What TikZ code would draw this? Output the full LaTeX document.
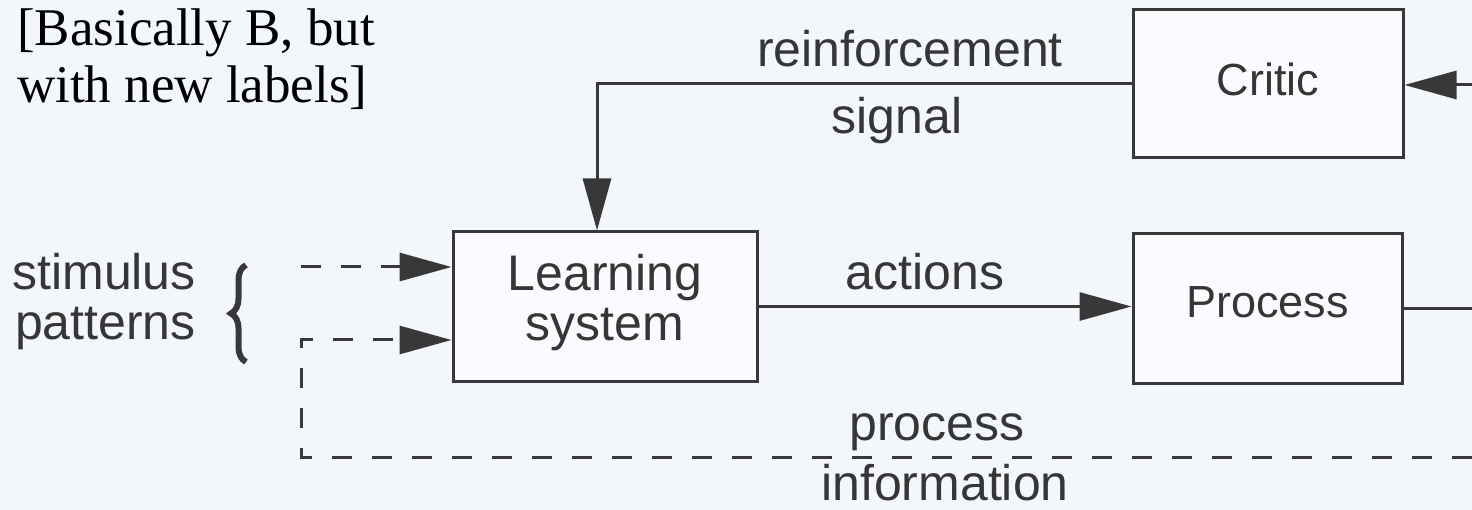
\documentclass[tikz,border=0pt]{standalone}
\usepackage{fontspec}
\setmainfont{Liberation Serif}
\newfontfamily\labfont{Liberation Sans}
\usetikzlibrary{arrows.meta,decorations.pathreplacing}
\definecolor{bgc}{HTML}{F3F7FB}
\definecolor{boxc}{HTML}{F9FBFE}
\definecolor{linec}{HTML}{383838}
\definecolor{txtc}{HTML}{363636}
\tikzset{
  blockbox/.style={draw=linec, line width=3pt, fill=boxc, rectangle, inner sep=0pt,
    font=\labfont\fontsize{45}{48}\selectfont, text=txtc, align=center},
  lbl/.style={font=\labfont\fontsize{50}{50}\selectfont, text=txtc, inner sep=0pt},
  conn/.style={draw=linec, line width=3pt},
  arr/.style={conn, -{Triangle[length=52pt,width=28pt]}},
  dashpat/.style={dash pattern=on 20pt off 20pt},
}
\begin{document}
\begin{tikzpicture}[x=1pt,y=-1pt]
\fill[bgc] (0,0) rectangle (1472,510);
\useasboundingbox (0,0) rectangle (1472,510);

% title (base anchor = baseline of the last line)
\node[anchor=base west, inner sep=0pt, align=left, font=\fontsize{53}{57}\selectfont, text=black] (title) at (17,103)
  {[Basically B, but\\with new labels]};

% boxes
\node[blockbox, minimum width=270pt, minimum height=148pt, text depth=10pt] (critic) at (1268,84) {Critic};
\node[blockbox, minimum width=269pt, minimum height=149pt, text depth=13pt] (process) at (1267.5,308.5) {Process};
\node[blockbox, minimum width=304pt, minimum height=149pt, text depth=19pt,
      font=\labfont\fontsize{50}{50}\selectfont] (learn) at (605,306.5) {Learning\\system};

% free ends
\coordinate (cin) at (1472,85);
\coordinate (pout) at (1472,308.5);
\coordinate (fb) at (1472,457);
\coordinate (fbc) at (301,457);
\coordinate (s1) at (301,267);
\coordinate (s2) at (301,340);

% connectors
\draw[arr] (cin) -- (cin -| critic.east);
\draw[arr] (critic.west) -| ([xshift=-8pt]learn.north);
\draw[arr] (learn.east) -- (learn.east -| process.west);
\draw[conn] (process.east) -- (pout);
\draw[arr, dashpat] (s1) -- (s1 -| learn.west);
\draw[arr, dashpat] (fb) -- (fbc) -- (s2) -- (s2 -| learn.west);

% labels
\node[lbl, anchor=base] (reinf) at (910,67) {reinforcement};
\node[lbl, anchor=base] (signal) at (897,134) {signal};
\node[lbl, anchor=base] (actions) at (925,290) {actions};
\node[lbl, anchor=base] (proc) at (937,440) {process};
\node[lbl, anchor=base] (info) at (945,500) {information};
\node[lbl, anchor=base east] (stim) at (196,290) {stimulus};
\node[lbl, anchor=base east] (patt) at (196,340) {patterns};

% brace
\draw[draw=linec, line width=6pt, decorate, decoration={brace, amplitude=15pt}] (246,362) -- (246,265);
\end{tikzpicture}
\end{document}
